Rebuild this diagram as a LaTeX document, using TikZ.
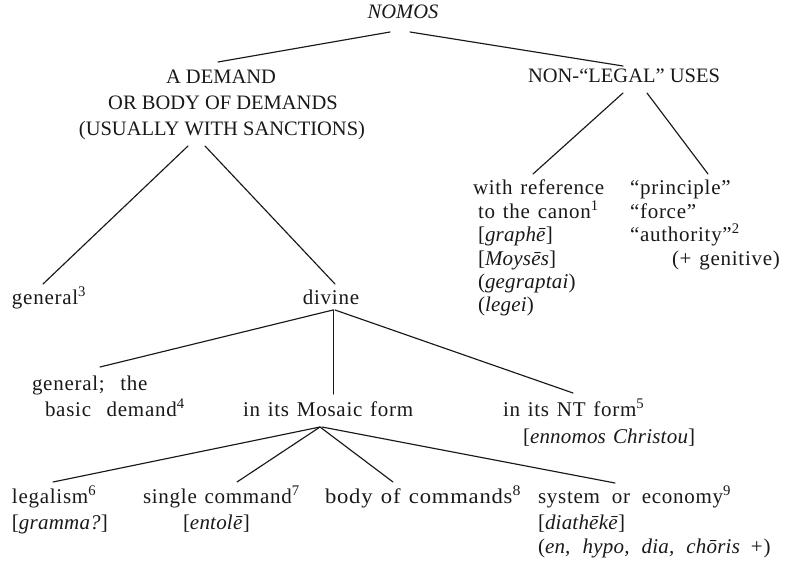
\documentclass[tikz,border=0pt]{standalone}
\usepackage{fontspec}
\setmainfont{Liberation Serif}[LetterSpace=3.5, WordSpace=1.3, ItalicFeatures={LetterSpace=1}]
\newfontfamily\capsfam{Liberation Serif}
\usetikzlibrary{calc}
\newcommand\mainfs{\fontsize{21}{24}\selectfont}
\newcommand\capsfs{\capsfam\fontsize{20.5}{24}\selectfont}
\newcommand\fn[1]{\textsuperscript{#1}}
\newcommand\fitw[2]{\resizebox{#1}{\height}{#2}}
\definecolor{ink}{gray}{0.1}
\tikzset{
  txt/.style={inner sep=0pt, outer sep=0pt, font=\mainfs, text=ink},
  lft/.style={txt, anchor=base west},
  ctr/.style={txt, anchor=base},
  caps/.style={ctr, font=\capsfs},
  conn/.style={draw=ink, line width=1.15pt, line cap=round}
}
\begin{document}
\begin{tikzpicture}[x=1pt,y=-1pt]
\fill[white] (0,0) rectangle (789,564);
\useasboundingbox (0,0) rectangle (789,564);
% level 0
\node[caps] (nomos) at (403,19) {\textit{NOMOS}};
% level 1
\node[caps] (dema) at (221,84) {A DEMAND};
\node[caps] (demb) at (223,110) {OR BODY OF DEMANDS};
\node[caps] (demc) at (222,136) {(USUALLY WITH SANCTIONS)};
\node[caps] (nonlegal) at (624,83) {NON-“LEGAL” USES};
% non-legal children
\node[lft] (wref1) at (473,194) {with reference};
\node[lft] (wref2) at (478,218) {to the canon\fn{1}};
\node[lft] (wref3) at (478,241) {[\textit{graphē}]};
\node[lft] (wref4) at (478,265) {[\textit{Moysēs}]};
\node[lft] (wref5) at (478,288) {(\textit{gegraptai})};
\node[lft] (wref6) at (478,311) {(\textit{legei})};
\node[lft] (prin1) at (630,194) {“principle”};
\node[lft] (prin2) at (630,218) {“force”};
\node[lft] (prin3) at (630,241) {“authority”\fn{2}};
\node[lft] (prin4) at (672,265) {(+ genitive)};
% demand children
\node[lft] (genl) at (12,304) {general\fn{3}};
\node[ctr] (divine) at (331,304) {divine};
% divine children
\node[lft] (gbd1) at (32,390) {general;\ \ the};
\node[lft] (gbd2) at (45,416) {basic\ \ demand\fn{4}};
\node[lft] (mosaic) at (243,416) {in its Mosaic form};
\node[lft] (ntf) at (503,416) {in its NT form\fn{5}};
\node[lft] (ennomos) at (523,443) {[\textit{ennomos Christou}]};
% mosaic children
\node[lft] (legal) at (12,503) {legalism\fn{6}};
\node[lft] (gramma) at (12,529) {[\textit{gramma?}]};
\node[lft] (single) at (143,503) {single command\fn{7}};
\node[lft] (entole) at (183,529) {[\textit{entolē}]};
\node[lft] (body) at (325,503) {\fitw{196pt}{body of commands\fn{8}}};
\node[lft] (system) at (538,503) {system\hspace{4pt} or\hspace{4pt} economy\fn{9}};
\node[lft] (diath) at (538,529) {[\textit{diathēkē}]};
\node[lft] (enhypo) at (538,553) {(\textit{en,\hspace{5pt} hypo,\hspace{5pt} dia,\hspace{5pt} chōris}\hspace{3pt} +)};
% connectors
\draw[conn] ($(nomos.base)+(-13,13)$) -- ($(dema.base)+(-3,-22)$);
\draw[conn] ($(nomos.base)+(7,13)$) -- ($(nonlegal.base)+(-1,-17)$);
\draw[conn] ($(demc.base)+(-34,10)$) -- ($(genl.base west)+(31,-20)$);
\draw[conn] ($(demc.base)+(-17,10)$) -- ($(divine.base)+(4,-20)$);
\draw[conn] ($(nonlegal.base)+(-1,10)$) -- ($(wref1.base west)+(60,-20)$);
\draw[conn] ($(nonlegal.base)+(23,10)$) -- ($(prin1.base west)+(78,-20)$);
\draw[conn] ($(divine.base)+(2,6)$) -- ($(gbd1.base west)+(68,-23)$);
\draw[conn] ($(divine.base)+(2.5,6)$) -- ($(mosaic.base west)+(90.5,-22)$);
\draw[conn] ($(divine.base)+(4,6)$) -- ($(ntf.base west)+(70,-23)$);
\draw[conn] ($(mosaic.base west)+(77,11)$) -- ($(legal.base west)+(41,-21)$);
\draw[conn] ($(mosaic.base west)+(77,11)$) -- ($(single.base west)+(94,-21)$);
\draw[conn] ($(mosaic.base west)+(77,11)$) -- ($(body.base west)+(68,-21)$);
\draw[conn] ($(mosaic.base west)+(79,11)$) -- ($(system.base west)+(77,-20)$);
\end{tikzpicture}
\end{document}
